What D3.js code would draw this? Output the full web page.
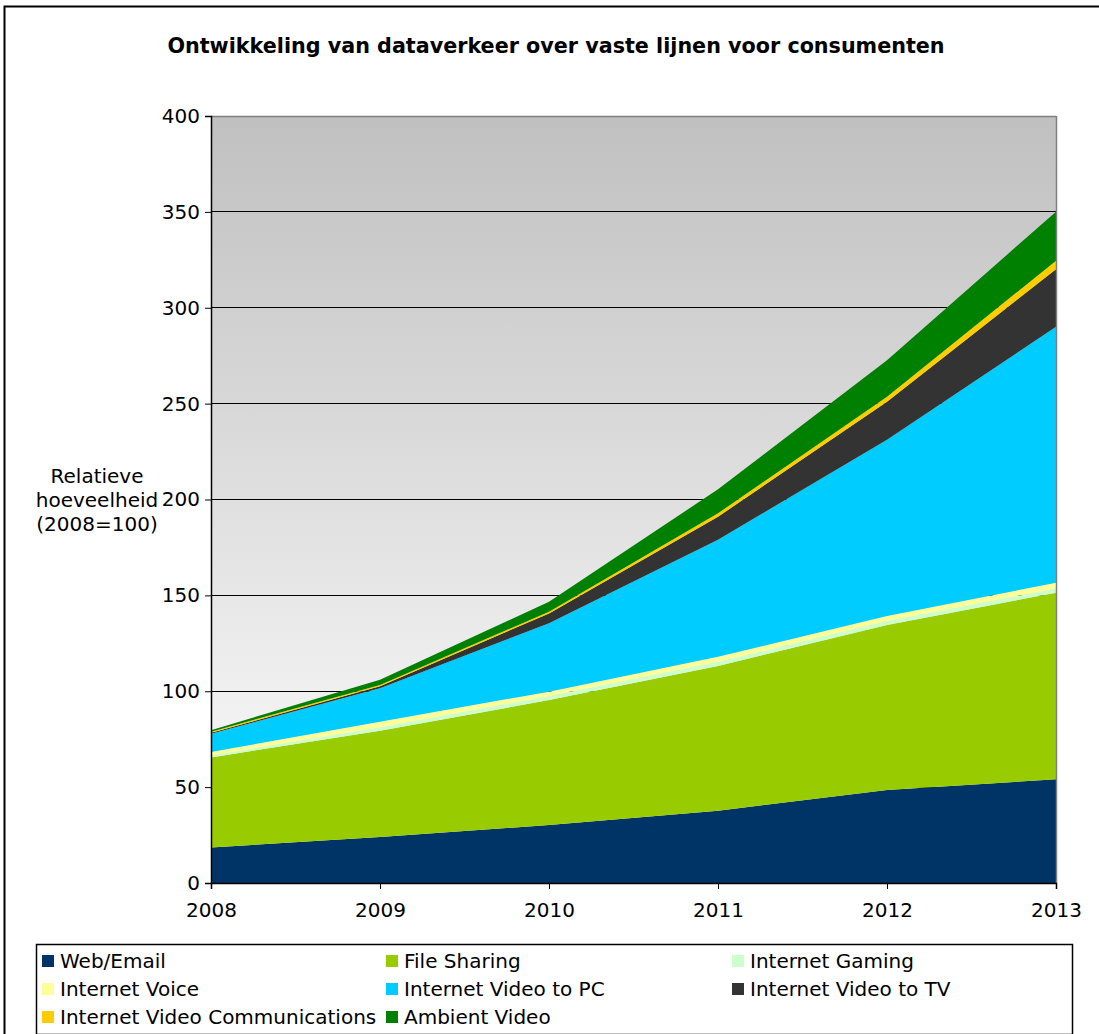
<!DOCTYPE html>
<html><head><meta charset="utf-8">
<script src="https://cdn.jsdelivr.net/npm/d3@7"></script>
<style>body{margin:0;background:#fff}svg{display:block}text{font-family:"DejaVu Sans",Verdana,sans-serif}</style>
</head><body>
<svg id="c" width="1099" height="1034"></svg>
<script>
const years = [2008, 2009, 2010, 2011, 2012, 2013];
const seriesNames = ["Web/Email","File Sharing","Internet Gaming","Internet Voice","Internet Video to PC","Internet Video to TV","Internet Video Communications","Ambient Video"];
const webEmail    = [18.5, 24.0, 30.2, 37.7, 48.5, 54.1];
const fileSharing = [47.0, 55.4, 65.2, 75.5, 86.0, 97.3];
const gaming      = [1.0, 1.8, 2.1, 2.2, 2.1, 2.2];
const voice       = [1.8, 2.9, 2.3, 2.6, 2.6, 3.0];
const videoPC     = [9.5, 17.5, 35.6, 61.0, 92.0, 133.5];
const videoTV     = [0.5, 1.0, 5.2, 12.0, 19.8, 30.0];
const videoComm   = [0.6, 0.6, 0.9, 1.8, 2.6, 4.4];
const ambient     = [0.8, 2.8, 5.2, 12.5, 19.0, 25.6];
const yTicks = [0, 50, 100, 150, 200, 250, 300, 350, 400];
const colors = ["#003366","#99cc00","#ccffcc","#ffff99","#00ccff","#333333","#ffcc00","#008000"];

const svg = d3.select("#c");
const allSeries = [webEmail, fileSharing, gaming, voice, videoPC, videoTV, videoComm, ambient];
const table = years.map((yr, i) => {
  const o = {year: yr};
  seriesNames.forEach((n, k) => o[n] = allSeries[k][i]);
  return o;
});
const stack = d3.stack().keys(seriesNames)(table);

const L = 211, R = 1056, T = 116, B = 883;
const x = d3.scaleLinear().domain([2008, 2013]).range([L, R]);
const y = d3.scaleLinear().domain([0, 400]).range([B, T]);

// outer frame
svg.append("rect").attr("x", 4.5).attr("y", 6.5).attr("width", 1110).attr("height", 1040)
  .attr("fill", "none").attr("stroke", "#000").attr("stroke-width", 2);

// plot background gradient
const defs = svg.append("defs");
const g = defs.append("linearGradient").attr("id", "bg").attr("x1", 0).attr("y1", 0).attr("x2", 0).attr("y2", 1);
g.append("stop").attr("offset", "0%").attr("stop-color", "#c0c0c0");
g.append("stop").attr("offset", "100%").attr("stop-color", "#ffffff");
svg.append("rect").attr("x", L).attr("y", T).attr("width", R - L).attr("height", B - T).attr("fill", "url(#bg)");

// gridlines
svg.append("g").selectAll("line").data(yTicks.filter(d => d > 0)).join("line")
  .attr("x1", L).attr("x2", R).attr("y1", d => y(d)).attr("y2", d => y(d))
  .attr("stroke", "#000").attr("stroke-width", 1).attr("shape-rendering", "crispEdges");

// areas
const area = d3.area().x(d => x(d.data.year)).y0(d => y(d[0])).y1(d => y(d[1]));
svg.append("g").selectAll("path").data(stack).join("path")
  .attr("d", area).attr("fill", (d, i) => colors[i]);

// plot border right/top
svg.append("line").attr("x1", R + 0.5).attr("x2", R + 0.5).attr("y1", T).attr("y2", B).attr("stroke", "#808080").attr("stroke-width", 1.5);
svg.append("line").attr("x1", L).attr("x2", R).attr("y1", T + 0.5).attr("y2", T + 0.5).attr("stroke", "#808080").attr("stroke-width", 1.5);

// axes
const yAxis = d3.axisLeft(y).tickValues(yTicks).tickSize(6).tickPadding(5);
const ya = svg.append("g").attr("transform", `translate(${L},0)`).call(yAxis);
ya.select(".domain").attr("stroke", "#000").attr("stroke-width", 1.5);
ya.selectAll("text").attr("font-size", 20).attr("fill", "#000");

const xAxis = d3.axisBottom(x).tickValues(years).tickFormat(d3.format("d")).tickSize(6).tickPadding(14);
const xa = svg.append("g").attr("transform", `translate(0,${B})`).call(xAxis);
xa.select(".domain").attr("stroke", "#000").attr("stroke-width", 1.5);
xa.selectAll("text").attr("font-size", 20).attr("fill", "#000");

// title
svg.append("text").attr("x", 556).attr("y", 53).attr("text-anchor", "middle")
  .attr("font-size", 20.7).attr("font-weight", "bold").text("Ontwikkeling van dataverkeer over vaste lijnen voor consumenten");

// y label
const yl = svg.append("text").attr("text-anchor", "middle").attr("font-size", 20);
["Relatieve", "hoeveelheid", "(2008=100)"].forEach((t, i) =>
  yl.append("tspan").attr("x", 97).attr("y", 483 + i * 24).text(t));

// legend
svg.append("rect").attr("x", 36.5).attr("y", 944.5).attr("width", 1036).attr("height", 90)
  .attr("fill", "#fff").attr("stroke", "#000").attr("stroke-width", 1.5);
const colX = [42, 386, 732];
const leg = svg.append("g").selectAll("g").data(seriesNames).join("g")
  .attr("transform", (d, i) => `translate(${colX[i % 3]},${961 + Math.floor(i / 3) * 28})`);
leg.append("rect").attr("x", 0).attr("y", -6).attr("width", 12).attr("height", 12).attr("fill", (d, i) => colors[i]);
leg.append("text").attr("x", 18).attr("y", 7).attr("font-size", 20).text(d => d);
</script>
</body></html>
